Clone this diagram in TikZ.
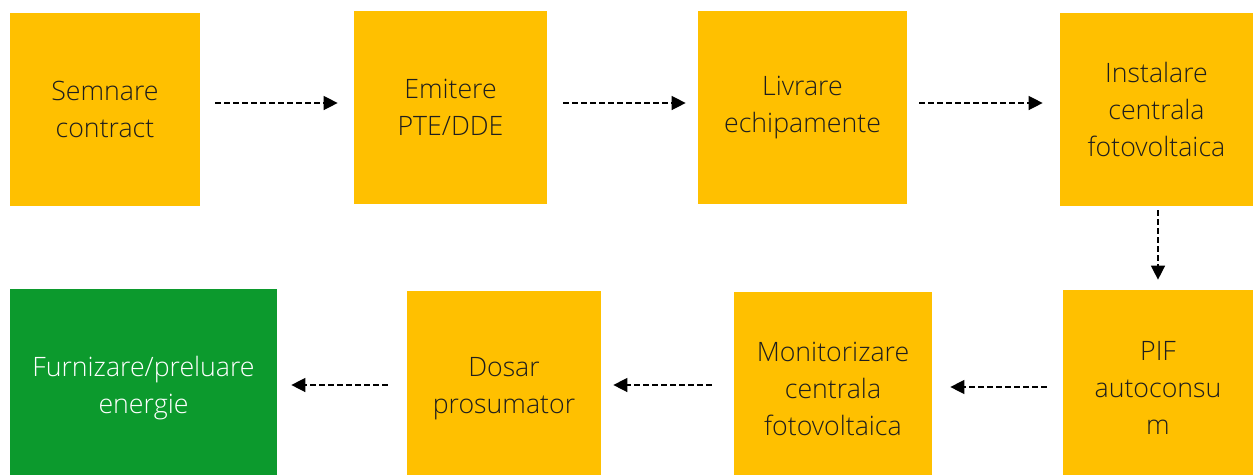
\documentclass[tikz,border=0pt]{standalone}
\usepackage{fontspec}
\setmainfont{Open Sans Light}
\usetikzlibrary{arrows.meta}
\definecolor{boxyellow}{HTML}{FFC000}
\definecolor{boxgreen}{HTML}{0C9A2D}
\definecolor{txt}{HTML}{1E1E1E}
\tikzset{
  stepbox/.style={fill=boxyellow, draw=none, inner sep=0pt, align=center, text=txt,
    font=\fontsize{15.2pt}{21pt}\selectfont},
  endbox/.style={stepbox, fill=boxgreen, text=white},
  flow/.style={densely dashed, dash pattern=on 0.11cm off 0.07cm, line width=0.8pt, black,
    -{Triangle[length=0.28cm,width=0.28cm]}}
}
\begin{document}
\begin{tikzpicture}[x=0.02cm,y=-0.02cm]
\useasboundingbox (0,0) rectangle (1255,474);
\clip (0,0) rectangle (1255,474);
\node[stepbox, minimum width=190*0.02cm, minimum height=193*0.02cm] (a) at (105,109.5) {Semnare\\contract};
\node[stepbox, minimum width=193*0.02cm, minimum height=193*0.02cm] (b) at (450.5,107.5) {Emitere\\PTE/DDE};
\node[stepbox, minimum width=209*0.02cm, minimum height=193*0.02cm] (c) at (802.5,107.5) {Livrare\\echipamente};
\node[stepbox, minimum width=193*0.02cm, minimum height=193*0.02cm] (d) at (1156.5,109.5) {Instalare\\centrala\\fotovoltaica};
\node[stepbox, minimum width=190*0.02cm, minimum height=196*0.02cm] (e) at (1158,388) {PIF\\autoconsu\\m};
\node[stepbox, minimum width=198*0.02cm, minimum height=194*0.02cm] (f) at (833,389) {Monitorizare\\centrala\\fotovoltaica};
\node[stepbox, minimum width=194*0.02cm, minimum height=196*0.02cm] (g) at (504,389) {Dosar\\prosumator};
\node[endbox, minimum width=267*0.02cm, minimum height=198*0.02cm] (h) at (143.5,388) {Furnizare/preluare\\energie};
\draw[flow, shorten <=15*0.02cm, shorten >=16*0.02cm] ([yshift=0.13cm]a.east) -- ([yshift=0.13cm]a.east -| b.west);
\draw[flow, shorten <=16*0.02cm, shorten >=12*0.02cm] ([yshift=0.09cm]b.east) -- ([yshift=0.09cm]b.east -| c.west);
\draw[flow, shorten <=12*0.02cm, shorten >=17*0.02cm] ([yshift=0.09cm]c.east) -- ([yshift=0.09cm]c.east -| d.west);
\draw[flow, shorten <=4*0.02cm, shorten >=10*0.02cm] ([xshift=0.03cm]d.south) -- ([xshift=0.03cm]d.south |- e.north);
\draw[flow, shorten <=16*0.02cm, shorten >=18*0.02cm] ([yshift=0.02cm]e.west) -- ([yshift=0.02cm]e.west -| f.east);
\draw[flow, shorten <=22*0.02cm, shorten >=12*0.02cm] ([yshift=0.08cm]f.west) -- ([yshift=0.08cm]f.west -| g.east);
\draw[flow, shorten <=19*0.02cm, shorten >=14*0.02cm] ([yshift=0.08cm]g.west) -- ([yshift=0.08cm]g.west -| h.east);
\end{tikzpicture}
\end{document}
